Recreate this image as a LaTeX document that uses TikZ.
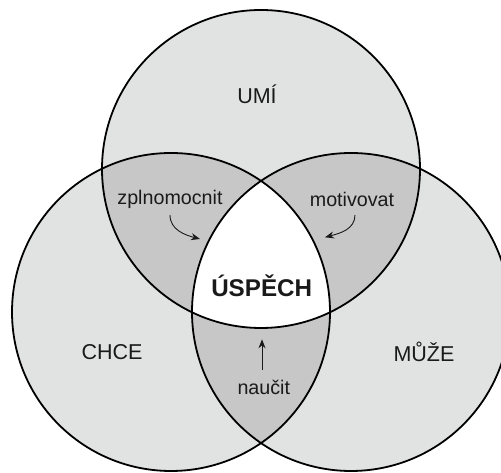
\documentclass[tikz,border=0pt]{standalone}
\usepackage{fontspec}
\setmainfont{Liberation Sans}
\usetikzlibrary{arrows.meta}
\definecolor{ringfill}{HTML}{E1E3E2}
\definecolor{lensfill}{HTML}{C6C7C6}
\definecolor{ink}{HTML}{1A1A1A}
\begin{document}
\begin{tikzpicture}[x=1pt,y=1pt,
  ring/.style={line width=1.8pt,draw=black},
  biglbl/.style={font=\fontsize{21.5}{24}\selectfont, anchor=base, inner sep=0pt, text=ink},
  sublbl/.style={font=\fontsize{19.7}{22}\selectfont, anchor=base, inner sep=0pt, text=ink},
  ptr/.style={line width=0.9pt, draw=ink, -{Stealth[length=9pt,width=7pt]}}]
\useasboundingbox (0,0) rectangle (501,473);
\coordinate (T) at (261,304);
\coordinate (L) at (171,161);
\coordinate (R) at (351,161);
\def\rr{159}
\fill[ringfill] (T) circle (\rr) (L) circle (\rr) (R) circle (\rr);
\begin{scope}
  \clip (T) circle (\rr);
  \fill[lensfill] (L) circle (\rr) (R) circle (\rr);
\end{scope}
\begin{scope}
  \clip (L) circle (\rr);
  \fill[lensfill] (R) circle (\rr);
\end{scope}
\begin{scope}
  \clip (T) circle (\rr);
  \clip (L) circle (\rr);
  \fill[white] (R) circle (\rr);
\end{scope}
\draw[ring] (T) circle (\rr) (L) circle (\rr) (R) circle (\rr);
\node[biglbl] (umi) at (257,369.7) {UMÍ};
\node[biglbl] (chce) at (112,113) {CHCE};
\node[biglbl] (muze) at (424,111.5) {MŮŽE};
\node[font=\bfseries\fontsize{24.2}{28}\selectfont, anchor=base, inner sep=0pt, text=ink] (uspech) at (261.7,176.3) {ÚSPĚCH};
\node[sublbl] (zpl) at (170,268) {zplnomocnit};
\node[sublbl] (mot) at (352,266.3) {motivovat};
\node[sublbl] (nau) at (263.8,78) {naučit};
\coordinate (a1s) at (170,258);
\coordinate (a1e) at (200,234);
\coordinate (a2s) at (355,258);
\coordinate (a2e) at (325,235.7);
\coordinate (a3s) at (262,103);
\coordinate (a3e) at (262,133.7);
\draw[ptr] (a1s) to[out=-90,in=165] (a1e);
\draw[ptr] (a2s) to[out=-90,in=15] (a2e);
\draw[ptr] (a3s) -- (a3e);
\end{tikzpicture}
\end{document}
